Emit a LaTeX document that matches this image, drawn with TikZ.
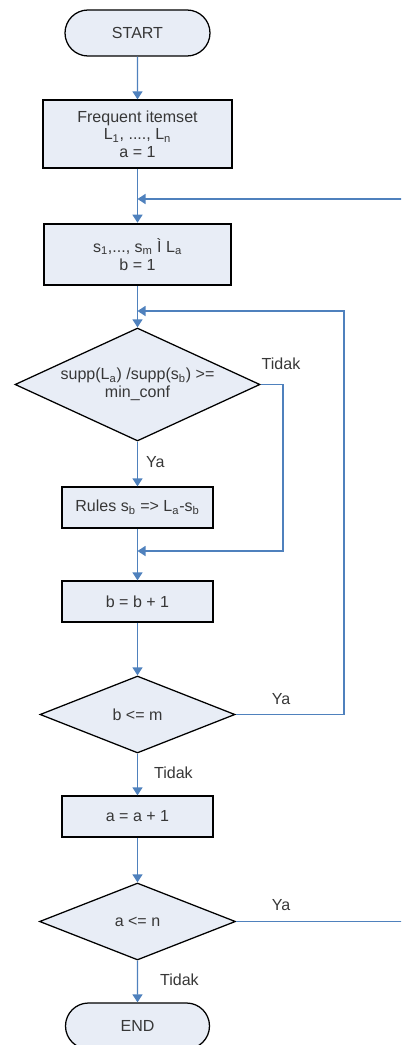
\documentclass[tikz,border=0pt]{standalone}
\usepackage{fontspec}
\setmainfont{Liberation Sans}
\usepackage{tikz}
\usetikzlibrary{shapes.geometric,shapes.misc,arrows.meta}

\definecolor{flowline}{RGB}{79,129,189}
\definecolor{flowfill}{RGB}{232,237,246}
\definecolor{flowtext}{RGB}{55,55,55}
\newcommand{\sbs}[1]{\textsubscript{#1}}

\tikzset{
  base/.style={draw=black, fill=flowfill, text=flowtext, line width=0.9pt,
               inner sep=0pt, align=center,
               font=\fontsize{11.4}{12.6}\selectfont},
  term/.style={base, rounded rectangle, minimum width=145*0.025cm, minimum height=46*0.025cm},
  proc/.style={base, rectangle, minimum width=151*0.025cm, minimum height=41*0.025cm},
  decide/.style={base, diamond, aspect=2.2},
  flow/.style={draw=flowline, line width=0.9pt},
  arr/.style={flow, -{Triangle[width=10*0.025cm,length=8*0.025cm]}},
  lbl/.style={text=flowtext, font=\fontsize{11.4}{12.6}\selectfont, inner sep=0pt}
}

\begin{document}
\begin{tikzpicture}[x=0.025cm,y=-0.025cm]
%\draw[help lines] (0,0) grid (401,1045);
\useasboundingbox (0,0) rectangle (401,1045);
\clip (0,0) rectangle (401,1045);

% nodes
\node[term] (start) at (137.5,33) {START};
\node[proc, minimum width=189*0.025cm, minimum height=68*0.025cm] (freq) at (137.5,134)
     {Frequent itemset\\L\sbs{1}, ...., L\sbs{n}\\a = 1};
\node[proc, line width=1.8pt, minimum width=187*0.025cm, minimum height=61*0.025cm] (sset) at (137.5,254.5)
     {s\sbs{1},..., s\sbs{m} Ì L\sbs{a}\\b = 1};
\node[decide, minimum width=245*0.025cm, minimum height=113*0.025cm] (conf) at (137.5,384.5)
     {supp(L\sbs{a}) /supp(s\sbs{b}) >=\\min\_conf};
\node[proc] (rules) at (137.5,507.5) {Rules s\sbs{b} => L\sbs{a}-s\sbs{b}};
\node[proc] (incb) at (137.5,601.5) {b = b + 1};
\node[decide, minimum width=195*0.025cm, minimum height=77*0.025cm] (chkb) at (137.5,714.5) {b <= m};
\node[proc] (inca) at (137.5,816.5) {a = a + 1};
\node[decide, minimum width=196*0.025cm, minimum height=77*0.025cm] (chka) at (137.5,921.5) {a <= n};
\node[term, minimum width=144*0.025cm] (stop) at (137.5,1026) {END};

% joins
\coordinate (ja) at (137.5,199);
\coordinate (jb) at (137.5,311);
\coordinate (jc) at (137.5,551);
\coordinate (outa) at (402,199);
\coordinate (outb) at (402,921.5);

% connectors
\draw[arr] (start) -- (freq);
\draw[arr] (freq) -- (sset);
\draw[arr] (outa) -- (ja);
\draw[arr] (sset) -- (conf);
\draw[arr] (conf) -- node[lbl, right=8*0.025cm, pos=0.45] {Ya} (rules);
\draw[arr] (conf.east) -| (283,551) -- (jc);
\draw[arr] (rules) -- (incb);
\draw[arr] (incb) -- (chkb);
\draw[arr] (chkb.east) -| (344,311) -- (jb);
\draw[arr] (chkb) -- node[lbl, right=16*0.025cm, pos=0.45] {Tidak} (inca);
\draw[arr] (inca) -- (chka);
\draw[flow] (chka.east) -- (outb);
\draw[arr] (chka) -- node[lbl, right=22*0.025cm, pos=0.45] {Tidak} (stop);

% branch labels
\node[lbl] (tconf) at (281,364) {Tidak};
\node[lbl] (ychkb) at (281,699) {Ya};
\node[lbl] (ychka) at (281,905) {Ya};
\end{tikzpicture}
\end{document}
